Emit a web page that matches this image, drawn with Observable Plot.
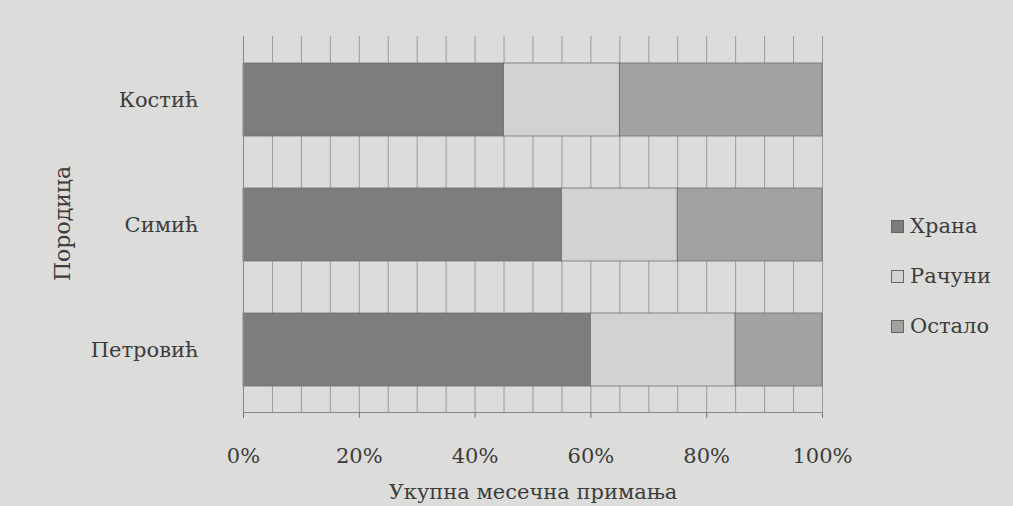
<!DOCTYPE html>
<html><head><meta charset="utf-8">
<script src="https://cdn.jsdelivr.net/npm/d3@7"></script>
<script src="https://cdn.jsdelivr.net/npm/@observablehq/plot@0.6"></script>
<style>
html,body{margin:0;padding:0;background:#dcdcdb;}
#wrap{position:relative;width:1013px;height:506px;font-family:"DejaVu Serif",serif;}
#legend{position:absolute;left:891px;top:201px;font-size:21px;color:#3c3c3c;}
#legend div{display:flex;align-items:center;height:50px;}
#legend span.sw{display:inline-block;width:13px;height:13px;margin-right:6px;border:1px solid #666;box-sizing:border-box;}
</style></head>
<body><div id="wrap"><div id="chart"></div><div id="legend"></div></div>
<script>
const families = ["Костић", "Симић", "Петровић"];
const categories = ["Храна", "Рачуни", "Остало"];
const hrana = [45, 55, 60];
const racuni = [20, 20, 25];
const ostalo = [35, 25, 15];
const xTicks = [0, 20, 40, 60, 80, 100];
const colors = ["#7d7d7d", "#d2d2d1", "#a2a2a1"];

const series = [hrana, racuni, ostalo];
const data = [];
families.forEach((f, i) => categories.forEach((c, j) => data.push({family: f, category: c, value: series[j][i]})));

const plot = Plot.plot({
  width: 1013, height: 506,
  marginLeft: 243, marginRight: 191, marginTop: 36, marginBottom: 94,
  style: {background: "transparent", fontFamily: "'DejaVu Serif', serif", fontSize: "21px", color: "#3c3c3c"},
  x: {domain: [0, 100], ticks: xTicks, tickFormat: d => d + "%", label: null},
  y: {domain: families, paddingInner: 0.418, paddingOuter: 0.207, label: null},
  color: {domain: categories, range: colors},
  marks: [
    Plot.ruleX(d3.range(0, 101, 5), {stroke: "#9a9a9a", strokeWidth: 1}),
    Plot.barX(data, Plot.stackX({x: "value", y: "family", fill: "category", order: categories, stroke: "#6e6e6e", strokeWidth: 0.8})),
    Plot.frame({anchor: "bottom", stroke: "#888"}),
    Plot.axisX({ticks: xTicks, tickFormat: d => d + "%", tickSize: 6, tickPadding: 30, stroke: "#777", fontSize: 21, label: null}),
    Plot.ruleX([0], {stroke: "#888"}),
    Plot.axisY({tickSize: 0, tickPadding: 45, fontSize: 21, label: null}),
    Plot.text(["Укупна месечна примања"], {frameAnchor: "bottom", dy: 86, fontSize: 21, fill: "#3c3c3c"}),
    Plot.text(["Породица"], {frameAnchor: "left", textAnchor: "middle", dx: -181, dy: -1, rotate: -90, fontSize: 22, fill: "#3c3c3c"})
  ]
});
document.getElementById("chart").append(plot);
const leg = document.getElementById("legend");
categories.forEach((c, i) => {
  const d = document.createElement("div");
  d.innerHTML = `<span class="sw" style="background:${colors[i]}"></span>${c}`;
  leg.append(d);
});
</script></body></html>
